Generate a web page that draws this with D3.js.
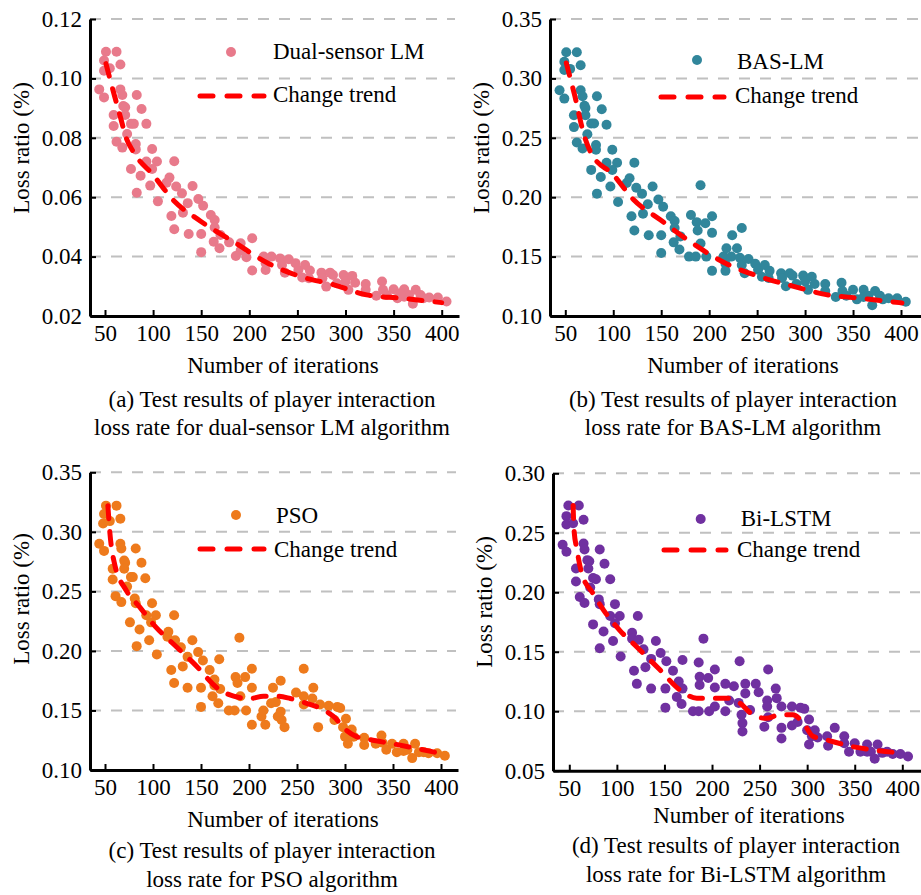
<!DOCTYPE html>
<html lang="en">
<head>
  <meta charset="UTF-8" />
  <title>loss ratio scatter</title>
  <script src="https://d3js.org/d3.v7.min.js" charset="utf-8"></script>
  <style>
    body { margin: 0; background: #fff; }
  </style>
</head>
<body>
<script type="text/javascript">

const WIDTH = 921;
const HEIGHT = 895;
const FONT = "'Liberation Serif', 'Times New Roman', serif";
const FONT_SIZE = 23;

// x ticks shared by all panels
const xTicks = [50, 100, 150, 200, 250, 300, 350, 400];

// (a) Dual-sensor LM: [iterations, loss ratio]
const dualSensorLM = [
  [51,0.109],[62,0.109],[49,0.106],[49,0.1026],[55,0.1034],[66,0.1047],[44,0.0963],[49,0.0936],[66,0.0963],[68,0.0944],
  [69,0.0907],[71,0.0903],[59,0.0877],[71,0.0877],[83,0.0944],[88,0.0897],[59,0.0840],[77,0.0847],[80,0.0847],[93,0.0847],
  [73,0.0813],[62,0.0787],[68,0.0767],[82,0.0779],[82,0.0761],[99,0.0762],[77,0.0695],[93,0.0720],[104,0.0720],[99,0.0695],
  [87,0.0672],[122,0.0721],[97,0.0639],[83,0.0615],[105,0.0586],[117,0.0666],[114,0.0649],[124,0.0636],[130,0.0613],[141,0.0638],
  [136,0.0580],[131,0.0548],[119,0.0537],[122,0.0492],[137,0.0476],[147,0.0594],[152,0.0571],[150,0.0476],[150,0.0415],[160,0.0540],
  [164,0.0523],[164,0.0498],[163,0.0450],[169,0.0428],[170,0.0473],[179,0.0448],[191,0.0445],[191,0.0420],[186,0.0402],[197,0.0398],
  [203,0.0462],[203,0.0353],[215,0.0400],[217,0.0378],[217,0.0355],[223,0.0400],[232,0.0394],[234,0.0372],[237,0.0346],[241,0.0391],
  [248,0.0378],[251,0.0355],[255,0.0330],[258,0.0372],[263,0.0353],[262,0.0327],[275,0.0346],[276,0.0327],[280,0.0299],[284,0.0346],
  [287,0.0338],[291,0.0310],[298,0.0338],[300,0.0316],[303,0.0288],[307,0.0335],[310,0.0312],[321,0.0308],[321,0.0288],[332,0.0268],
  [338,0.0316],[339,0.0288],[343,0.0271],[350,0.0290],[354,0.0260],[361,0.0290],[361,0.0265],[366,0.0271],[370,0.0241],[373,0.0288],
  [378,0.0271],[381,0.0260],[387,0.0262],[396,0.0262],[405,0.0249],[357,0.0277]
];
const dualSensorTrend = [
  [51,0.105],[55,0.100],[60,0.094],[66,0.087],[72,0.080],[80,0.075],[100,0.0675],[121,0.059],[149,0.052],
  [186,0.0445],[218,0.038],[253,0.0333],[288,0.0305],[322,0.0271],[357,0.026],[400,0.0245]
];

// (b) BAS-LM
const basLM = [
  [51,0.322],[62,0.322],[49,0.314],[49,0.307],[55,0.308],[66,0.311],[44,0.290],[49,0.283],[66,0.290],[68,0.285],
  [70,0.277],[71,0.275],[59,0.269],[71,0.269],[83,0.285],[88,0.274],[59,0.259],[77,0.262],[80,0.262],[93,0.261],
  [73,0.253],[62,0.246],[68,0.241],[82,0.244],[82,0.240],[99,0.240],[77,0.223],[93,0.229],[104,0.229],[99,0.223],
  [87,0.217],[122,0.229],[97,0.209],[83,0.203],[105,0.196],[117,0.216],[114,0.212],[124,0.208],[130,0.203],[141,0.209],
  [136,0.194],[131,0.186],[119,0.184],[122,0.172],[137,0.168],[147,0.198],[152,0.192],[150,0.168],[150,0.153],[160,0.184],
  [164,0.180],[164,0.174],[163,0.162],[169,0.156],[170,0.167],[181,0.185],[187,0.179],[188,0.172],[196,0.178],[191,0.210],
  [191,0.161],[197,0.150],[179,0.150],[186,0.150],[203,0.184],[203,0.170],[203,0.138],[215,0.150],[217,0.144],[217,0.138],
  [218,0.157],[223,0.150],[224,0.168],[229,0.157],[234,0.174],[232,0.149],[234,0.143],[237,0.136],[241,0.148],[248,0.144],
  [251,0.139],[255,0.133],[258,0.143],[263,0.138],[262,0.132],[275,0.136],[276,0.132],[280,0.125],[284,0.136],[287,0.134],
  [291,0.127],[298,0.134],[300,0.129],[303,0.122],[307,0.133],[310,0.127],[321,0.127],[321,0.121],[332,0.116],[338,0.128],
  [339,0.121],[343,0.117],[350,0.122],[354,0.114],[361,0.122],[361,0.116],[366,0.117],[370,0.109],[373,0.121],[378,0.117],
  [381,0.114],[387,0.115],[396,0.115],[405,0.112]
];
const basTrend = [
  [51,0.313],[60,0.285],[70,0.251],[77,0.237],[100,0.219],[121,0.198],[149,0.181],[183,0.161],
  [218,0.144],[253,0.133],[288,0.125],[322,0.118],[357,0.115],[401,0.111]
];

// (c) PSO
const pso = [
  [51,0.322],[62,0.322],[49,0.315],[48,0.307],[55,0.309],[66,0.311],[44,0.290],[49,0.284],[66,0.290],[67,0.286],
  [70,0.276],[71,0.274],[58,0.269],[70,0.269],[82,0.286],[88,0.274],[58,0.260],[77,0.262],[79,0.262],[92,0.261],
  [73,0.254],[61,0.246],[67,0.241],[81,0.244],[82,0.240],[99,0.240],[76,0.224],[93,0.230],[103,0.230],[98,0.224],
  [86,0.218],[122,0.230],[96,0.209],[83,0.204],[104,0.197],[116,0.216],[115,0.212],[123,0.209],[129,0.203],[141,0.209],
  [136,0.195],[131,0.187],[119,0.184],[122,0.173],[136,0.169],[147,0.199],[152,0.192],[150,0.169],[150,0.153],[159,0.184],
  [164,0.176],[164,0.171],[162,0.162],[168,0.156],[170,0.168],[169,0.193],[179,0.150],[185,0.150],[186,0.178],[188,0.173],
  [196,0.178],[190,0.211],[191,0.162],[197,0.150],[203,0.185],[203,0.169],[203,0.138],[213,0.145],[215,0.150],[217,0.138],
  [223,0.156],[228,0.157],[225,0.169],[233,0.175],[230,0.145],[234,0.142],[237,0.136],[233,0.149],[249,0.165],[257,0.185],
  [257,0.162],[257,0.155],[267,0.169],[266,0.160],[272,0.136],[274,0.155],[283,0.154],[289,0.142],[292,0.153],[295,0.152],
  [301,0.143],[298,0.136],[303,0.131],[300,0.128],[303,0.122],[307,0.134],[309,0.128],[320,0.127],[320,0.121],[332,0.122],
  [338,0.129],[339,0.123],[343,0.117],[349,0.122],[354,0.115],[361,0.122],[361,0.116],[365,0.117],[370,0.110],[373,0.122],
  [377,0.115],[382,0.115],[387,0.114],[396,0.114],[404,0.112]
];
const psoTrend = [
  [53,0.322],[55,0.300],[60,0.273],[72,0.251],[86,0.237],[103,0.220],[121,0.206],[142,0.190],[170,0.167],
  [184,0.162],[201,0.160],[215,0.162],[229,0.162],[243,0.160],[260,0.156],[274,0.152],[288,0.145],[302,0.133],
  [312,0.128],[329,0.125],[350,0.122],[375,0.118],[399,0.114]
];

// (d) Bi-LSTM
const biLSTM = [
  [49,0.273],[60,0.273],[47,0.264],[47,0.257],[54,0.258],[65,0.261],[43,0.240],[47,0.234],[65,0.241],[66,0.236],
  [69,0.227],[71,0.226],[57,0.220],[70,0.220],[82,0.236],[87,0.224],[57,0.209],[75,0.212],[78,0.211],[93,0.211],
  [72,0.204],[61,0.196],[66,0.191],[81,0.194],[82,0.190],[98,0.190],[75,0.173],[93,0.180],[103,0.180],[98,0.174],
  [86,0.167],[122,0.180],[96,0.159],[82,0.153],[104,0.146],[116,0.166],[116,0.161],[123,0.160],[128,0.152],[141,0.159],
  [136,0.144],[130,0.137],[118,0.134],[121,0.123],[136,0.119],[146,0.149],[152,0.142],[151,0.119],[151,0.103],[159,0.134],
  [165,0.125],[163,0.112],[168,0.106],[169,0.119],[169,0.143],[180,0.100],[186,0.100],[186,0.141],[187,0.129],[196,0.128],
  [191,0.161],[187,0.122],[197,0.100],[203,0.135],[203,0.120],[203,0.104],[214,0.123],[214,0.100],[218,0.109],[223,0.121],
  [229,0.142],[228,0.107],[231,0.097],[232,0.090],[232,0.083],[235,0.123],[235,0.115],[240,0.101],[246,0.123],[249,0.116],
  [255,0.087],[258,0.109],[259,0.135],[258,0.104],[259,0.095],[267,0.119],[268,0.111],[273,0.104],[273,0.086],[273,0.077],
  [284,0.104],[284,0.088],[290,0.091],[293,0.103],[297,0.102],[302,0.093],[300,0.084],[305,0.079],[302,0.072],[308,0.084],
  [311,0.078],[321,0.079],[322,0.071],[329,0.086],[339,0.079],[339,0.073],[344,0.066],[350,0.073],[356,0.066],[363,0.072],
  [363,0.066],[367,0.066],[371,0.060],[374,0.072],[379,0.065],[384,0.066],[390,0.064],[398,0.064],[406,0.062]
];
const biLSTMTrend = [
  [54,0.273],[55,0.252],[58,0.236],[63,0.216],[75,0.199],[86,0.185],[103,0.168],[121,0.154],[145,0.135],
  [166,0.118],[184,0.111],[201,0.111],[215,0.111],[229,0.107],[243,0.097],[257,0.094],[271,0.097],[285,0.097],
  [296,0.090],[306,0.079],[320,0.076],[349,0.070],[373,0.067],[398,0.065]
];

const svg = d3.select("body")
  .append("svg")
    .attr("width", WIDTH)
    .attr("height", HEIGHT);

function drawPanel(cfg) {
  const x = d3.scaleLinear().domain([50, 400]).range([cfg.x50, cfg.x400]);
  const y = d3.scaleLinear().domain([cfg.yTicks[0], cfg.yTicks[cfg.yTicks.length - 1]]).range([cfg.bottom, cfg.top]);
  const g = svg.append("g");

  // dashed grid
  g.append("g").selectAll("line")
    .data(cfg.yTicks.slice(1))
    .join("line")
      .attr("x1", cfg.left)
      .attr("x2", cfg.gridRight)
      .attr("y1", d => y(d))
      .attr("y2", d => y(d))
      .attr("stroke", "#C0C0C0")
      .attr("stroke-width", 2)
      .attr("stroke-dasharray", "11,10");

  // points
  g.append("g").selectAll("circle")
    .data(cfg.points)
    .join("circle")
      .attr("cx", d => x(d[0]))
      .attr("cy", d => y(d[1]))
      .attr("r", 5)
      .attr("fill", cfg.color);

  // trend
  const line = d3.line()
    .x(d => x(d[0]))
    .y(d => y(d[1]))
    .curve(d3.curveMonotoneX);
  g.append("path")
    .datum(cfg.trend)
    .attr("d", line)
    .attr("fill", "none")
    .attr("stroke", "#FF0000")
    .attr("stroke-width", 5)
    .attr("stroke-linecap", "round")
    .attr("stroke-dasharray", "13,13");

  // x axis, stretched to the plot edges
  const xa = x.copy()
    .domain([x.invert(cfg.left), x.invert(cfg.right)])
    .range([cfg.left, cfg.right]);
  g.append("g")
    .attr("transform", `translate(0,${cfg.bottom})`)
    .call(d3.axisBottom(xa).tickValues(xTicks).tickSizeInner(-6).tickSizeOuter(0))
    .attr("font-family", FONT)
    .attr("font-size", FONT_SIZE)
    .call(a => a.select(".domain").attr("stroke", "#000").attr("stroke-width", 3))
    .call(a => a.selectAll(".tick line").attr("stroke", "#000").attr("stroke-width", 2))
    .call(a => a.selectAll(".tick text").attr("fill", "#000").attr("dy", null).attr("y", 25));

  // y axis
  g.append("g")
    .attr("transform", `translate(${cfg.left},0)`)
    .call(d3.axisLeft(y).tickValues(cfg.yTicks).tickFormat(d3.format(".2f"))
      .tickSizeInner(-6).tickSizeOuter(0).tickPadding(8))
    .attr("font-family", FONT)
    .attr("font-size", FONT_SIZE)
    .call(a => a.select(".domain").attr("stroke", "#000").attr("stroke-width", 3))
    .call(a => a.selectAll(".tick line").attr("stroke", "#000").attr("stroke-width", 2))
    .call(a => a.selectAll(".tick text").attr("fill", "#000"));

  const txt = (tx, ty, s, anchor) => g.append("text")
    .attr("x", tx)
    .attr("y", ty)
    .attr("font-family", FONT)
    .attr("font-size", FONT_SIZE)
    .attr("text-anchor", anchor || "start")
    .text(s);

  // axis labels
  g.append("text")
    .attr("transform", `translate(${cfg.yLabelX},${cfg.yLabelY}) rotate(-90)`)
    .attr("font-family", FONT)
    .attr("font-size", FONT_SIZE)
    .attr("text-anchor", "middle")
    .text("Loss ratio (%)");
  txt(cfg.titleX, cfg.titleY, "Number of iterations", "middle");
  txt(cfg.capX, cfg.capY[0], cfg.caption[0], "middle");
  txt(cfg.capX, cfg.capY[1], cfg.caption[1], "middle");

  // legend
  const L = cfg.legend;
  g.append("circle")
    .attr("cx", L.dotX).attr("cy", L.dotY).attr("r", 5).attr("fill", cfg.color);
  txt(L.text1X, L.text1Y, cfg.name);
  g.append("line")
    .attr("x1", L.lineX1).attr("x2", L.lineX2)
    .attr("y1", L.lineY).attr("y2", L.lineY)
    .attr("stroke", "#FF0000")
    .attr("stroke-width", 5)
    .attr("stroke-linecap", "round")
    .attr("stroke-dasharray", "13,14");
  txt(L.text2X, L.text2Y, "Change trend");
}

drawPanel({
  points: dualSensorLM, trend: dualSensorTrend, color: "#E87A8B", name: "Dual-sensor LM",
  caption: ["(a) Test results of player interaction", "loss rate for dual-sensor LM algorithm"],
  yTicks: [0.02, 0.04, 0.06, 0.08, 0.10, 0.12],
  left: 90, right: 459, top: 19, bottom: 316, x50: 105, x400: 441.7, gridRight: 455,
  yLabelX: 29, yLabelY: 148, titleX: 283, titleY: 373, capX: 272, capY: [407, 435],
  legend: {dotX: 231, dotY: 52, text1X: 273, text1Y: 59, lineX1: 200, lineX2: 264, lineY: 96, text2X: 273, text2Y: 102}
});

drawPanel({
  points: basLM, trend: basTrend, color: "#31869B", name: "BAS-LM",
  caption: ["(b) Test results of player interaction", "loss rate for BAS-LM algorithm"],
  yTicks: [0.10, 0.15, 0.20, 0.25, 0.30, 0.35],
  left: 550, right: 921, top: 19, bottom: 316, x50: 565.3, x400: 901, gridRight: 921,
  yLabelX: 489, yLabelY: 148, titleX: 743, titleY: 373, capX: 733, capY: [407, 435],
  legend: {dotX: 697, dotY: 60, text1X: 737, text1Y: 69, lineX1: 661, lineX2: 724, lineY: 97, text2X: 735, text2Y: 103}
});

drawPanel({
  points: pso, trend: psoTrend, color: "#EE7A1C", name: "PSO",
  caption: ["(c) Test results of player interaction", "loss rate for PSO algorithm"],
  yTicks: [0.10, 0.15, 0.20, 0.25, 0.30, 0.35],
  left: 90, right: 458, top: 472.3, bottom: 770, x50: 105, x400: 441, gridRight: 456,
  yLabelX: 29, yLabelY: 599, titleX: 283, titleY: 827, capX: 272, capY: [858, 887],
  legend: {dotX: 236, dotY: 515, text1X: 276, text1Y: 523, lineX1: 200, lineX2: 264, lineY: 549, text2X: 274, text2Y: 557}
});

drawPanel({
  points: biLSTM, trend: biLSTMTrend, color: "#7030A0", name: "Bi-LSTM",
  caption: ["(d) Test results of player interaction", "loss rate for Bi-LSTM algorithm"],
  yTicks: [0.05, 0.10, 0.15, 0.20, 0.25, 0.30],
  left: 553, right: 921, top: 473.3, bottom: 770.7, x50: 569.3, x400: 902.3, gridRight: 920,
  yLabelX: 492, yLabelY: 602, titleX: 749, titleY: 823, capX: 736, capY: [853, 882],
  legend: {dotX: 700.7, dotY: 519, text1X: 740.7, text1Y: 526, lineX1: 664, lineX2: 726, lineY: 550, text2X: 737, text2Y: 557}
});

</script>
</body>
</html>
